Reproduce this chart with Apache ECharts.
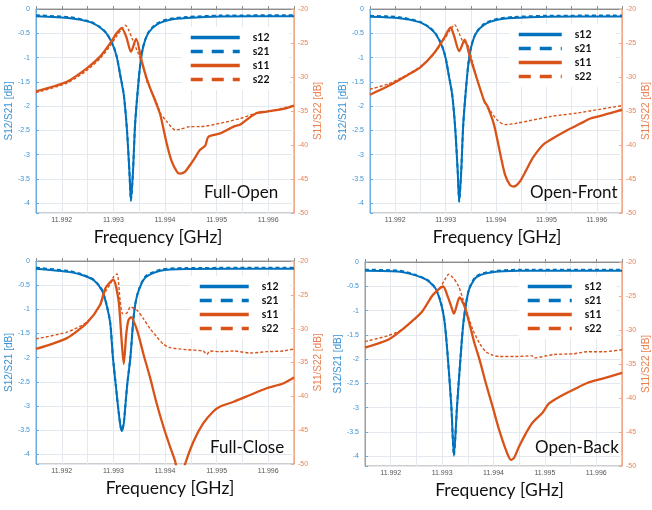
<!DOCTYPE html>
<html>
<head>
<meta charset="utf-8">
<script src="https://cdn.jsdelivr.net/npm/echarts@6/dist/echarts.min.js"></script>
<style>
  html, body { margin: 0; padding: 0; background: #fff; }
  #chart { width: 652px; height: 510px; }
</style>
</head>
<body>
<div id="chart"></div>
<script>
// frequency in GHz, values in dB
var titles = ['Full-Open', 'Open-Front', 'Full-Close', 'Open-Back']
var legendNames = ['s12', 's21', 's11', 's22']
var xTicks = [11.992, 11.993, 11.994, 11.995, 11.996]

// Full-Open
var fo_s12 = [[11.9915,-0.15],[11.99216,-0.19],[11.99255,-0.27],[11.99274,-0.38],[11.99287,-0.51],[11.993,-0.77],[11.99307,-1.01],[11.99313,-1.35],[11.9932,-1.76],[11.99326,-2.45],[11.99331,-3.34],[11.99334,-3.95],[11.99338,-3.34],[11.99342,-2.38],[11.99347,-1.7],[11.99352,-1.15],[11.99358,-0.77],[11.99368,-0.49],[11.99384,-0.32],[11.9941,-0.22],[11.99442,-0.185],[11.99507,-0.155],[11.9965,-0.15]]
var fo_s21 = [[11.9915,-0.13],[11.99216,-0.17],[11.99255,-0.26],[11.99274,-0.37],[11.99287,-0.5],[11.993,-0.76],[11.99307,-1.0],[11.99313,-1.34],[11.9932,-1.75],[11.99326,-2.44],[11.99331,-3.33],[11.99334,-3.94],[11.99338,-3.33],[11.99342,-2.37],[11.99347,-1.69],[11.99352,-1.14],[11.99358,-0.76],[11.99368,-0.48],[11.99384,-0.3],[11.9941,-0.2],[11.99442,-0.165],[11.99507,-0.135],[11.9965,-0.13]]
var fo_s11 = [[11.9915,-32.1],[11.9921,-30.7],[11.99249,-28.7],[11.99274,-27.0],[11.99294,-25.0],[11.99307,-23.5],[11.99316,-22.8],[11.99325,-24.1],[11.99334,-26.3],[11.99344,-24.4],[11.99355,-27.7],[11.99364,-30.1],[11.99371,-31.6],[11.99384,-34.1],[11.99391,-35.6],[11.99404,-40.0],[11.99413,-42.4],[11.99423,-43.9],[11.99429,-44.2],[11.99439,-43.9],[11.99449,-42.9],[11.99458,-41.9],[11.99468,-40.7],[11.99478,-40.1],[11.99484,-38.8],[11.99507,-38.3],[11.99533,-37.3],[11.99546,-37.0],[11.99558,-36.3],[11.99578,-35.3],[11.99597,-35.1],[11.99629,-34.7],[11.9965,-34.2]]
var fo_s22 = [[11.9915,-32.3],[11.9921,-30.9],[11.99249,-29.0],[11.99274,-27.3],[11.99294,-25.4],[11.99307,-23.9],[11.99316,-23.0],[11.99323,-22.4],[11.99329,-23.0],[11.99336,-24.3],[11.99349,-26.7],[11.99358,-28.6],[11.99365,-30.7],[11.99371,-31.6],[11.99384,-33.8],[11.99391,-35.3],[11.99404,-36.6],[11.9942,-37.8],[11.99429,-37.7],[11.99449,-37.3],[11.99468,-37.3],[11.99507,-36.8],[11.99546,-36.1],[11.99578,-35.3],[11.99597,-35.1],[11.9965,-34.2]]

// Open-Front
var of_s12 = [[11.9915,-0.16],[11.99209,-0.19],[11.99248,-0.27],[11.99267,-0.38],[11.9928,-0.51],[11.99293,-0.77],[11.993,-1.01],[11.99306,-1.35],[11.99313,-1.76],[11.99319,-2.45],[11.99324,-3.34],[11.99327,-3.97],[11.99331,-3.34],[11.99335,-2.38],[11.9934,-1.7],[11.99345,-1.15],[11.99351,-0.77],[11.99361,-0.49],[11.99377,-0.32],[11.99403,-0.22],[11.99435,-0.185],[11.995,-0.16],[11.9965,-0.155]]
var of_s21 = [[11.9915,-0.14],[11.99209,-0.17],[11.99248,-0.26],[11.99267,-0.37],[11.9928,-0.5],[11.99293,-0.76],[11.993,-1.0],[11.99306,-1.34],[11.99313,-1.75],[11.99319,-2.44],[11.99324,-3.33],[11.99327,-3.96],[11.99331,-3.33],[11.99335,-2.37],[11.9934,-1.69],[11.99345,-1.14],[11.99351,-0.76],[11.99361,-0.48],[11.99377,-0.3],[11.99403,-0.2],[11.99435,-0.165],[11.995,-0.14],[11.9965,-0.135]]
var of_s11 = [[11.9915,-32.6],[11.99187,-31.3],[11.99225,-29.7],[11.99251,-28.5],[11.99277,-26.5],[11.99296,-24.4],[11.9931,-22.7],[11.99317,-24.0],[11.99327,-26.2],[11.99338,-24.5],[11.99347,-26.7],[11.99364,-30.7],[11.99377,-33.6],[11.99383,-34.3],[11.99396,-37.0],[11.99409,-41.5],[11.99418,-44.4],[11.99428,-45.9],[11.99435,-46.1],[11.99447,-45.4],[11.9946,-43.7],[11.99473,-41.9],[11.99493,-40.0],[11.99509,-39.2],[11.99542,-37.8],[11.99574,-36.6],[11.99587,-36.1],[11.99613,-35.6],[11.9965,-34.8]]
var of_s22 = [[11.9915,-31.8],[11.99187,-31.0],[11.99225,-29.6],[11.99251,-28.4],[11.99277,-26.6],[11.99296,-24.6],[11.9931,-23.0],[11.99318,-22.3],[11.99327,-23.6],[11.99333,-24.6],[11.99344,-25.3],[11.99354,-28.0],[11.99364,-30.7],[11.99377,-33.6],[11.99383,-34.3],[11.99402,-36.3],[11.99418,-37.0],[11.99441,-36.8],[11.99509,-35.8],[11.99561,-35.3],[11.9965,-34.2]]

// Full-Close
var fc_s12 = [[11.9915,-0.16],[11.99216,-0.23],[11.99242,-0.3],[11.99262,-0.4],[11.99278,-0.61],[11.99287,-0.92],[11.99294,-1.3],[11.99299,-1.99],[11.99305,-2.61],[11.99309,-3.02],[11.99313,-3.37],[11.99316,-3.52],[11.9932,-3.37],[11.99323,-3.02],[11.99327,-2.54],[11.99333,-1.99],[11.99338,-1.3],[11.99342,-0.92],[11.99349,-0.61],[11.99362,-0.34],[11.99391,-0.2],[11.99442,-0.165],[11.9965,-0.16]]
var fc_s21 = [[11.9915,-0.14],[11.99216,-0.21],[11.99242,-0.29],[11.99262,-0.39],[11.99278,-0.6],[11.99287,-0.91],[11.99294,-1.29],[11.99299,-1.98],[11.99305,-2.6],[11.99309,-3.01],[11.99313,-3.36],[11.99316,-3.51],[11.9932,-3.36],[11.99323,-3.01],[11.99327,-2.53],[11.99333,-1.98],[11.99338,-1.29],[11.99342,-0.91],[11.99349,-0.6],[11.99362,-0.32],[11.99391,-0.18],[11.99442,-0.145],[11.9965,-0.14]]
var fc_s11 = [[11.9915,-33.0],[11.9921,-31.4],[11.99249,-29.1],[11.99274,-26.5],[11.99284,-24.1],[11.99294,-23.1],[11.993,-22.8],[11.9931,-25.8],[11.99315,-30.75],[11.9932,-35.2],[11.99325,-30.75],[11.99329,-28.8],[11.99334,-28.3],[11.99346,-30.25],[11.99358,-33.7],[11.99371,-37.2],[11.99384,-41.1],[11.99397,-44.5],[11.9941,-47.5],[11.9942,-49.7],[11.99429,-53.0],[11.99439,-50.0],[11.99455,-46.7],[11.99474,-44.0],[11.99494,-42.2],[11.99507,-41.5],[11.99533,-40.8],[11.99565,-39.8],[11.99597,-38.8],[11.99629,-38.1],[11.9965,-37.2]]
var fc_s22 = [[11.9915,-31.5],[11.9921,-30.5],[11.99249,-29.0],[11.99274,-26.6],[11.99284,-24.6],[11.99294,-23.4],[11.993,-22.4],[11.99307,-21.9],[11.99313,-25.8],[11.99318,-27.8],[11.99326,-27.7],[11.99333,-26.8],[11.99346,-27.3],[11.99358,-28.5],[11.99371,-30.0],[11.99384,-31.2],[11.99397,-32.3],[11.9941,-32.8],[11.99442,-33.1],[11.99474,-33.3],[11.99481,-33.8],[11.99487,-33.3],[11.99507,-33.4],[11.99533,-33.3],[11.99565,-33.6],[11.99597,-33.4],[11.99629,-33.3],[11.9965,-33.0]]

// Open-Back
var ob_s12 = [[11.9915,-0.18],[11.99218,-0.2],[11.9925,-0.28],[11.9927,-0.37],[11.99282,-0.48],[11.99289,-0.58],[11.99299,-0.9],[11.99305,-1.25],[11.99311,-1.95],[11.99318,-2.98],[11.99323,-3.99],[11.99329,-2.98],[11.99336,-1.95],[11.99342,-1.2],[11.99352,-0.58],[11.99366,-0.32],[11.99392,-0.22],[11.9945,-0.18],[11.9965,-0.18]]
var ob_s21 = [[11.9915,-0.16],[11.99218,-0.18],[11.9925,-0.27],[11.9927,-0.36],[11.99282,-0.47],[11.99289,-0.57],[11.99299,-0.89],[11.99305,-1.24],[11.99311,-1.94],[11.99318,-2.97],[11.99323,-3.98],[11.99329,-2.97],[11.99336,-1.94],[11.99342,-1.19],[11.99352,-0.57],[11.99366,-0.3],[11.99392,-0.2],[11.9945,-0.16],[11.9965,-0.16]]
var ob_s11 = [[11.9915,-32.6],[11.99196,-31.4],[11.99223,-29.9],[11.9926,-27.4],[11.99282,-24.85],[11.99302,-23.6],[11.99311,-25.1],[11.99318,-26.6],[11.99323,-27.6],[11.99334,-25.2],[11.99344,-26.6],[11.99353,-29.0],[11.99363,-31.95],[11.99373,-34.4],[11.99385,-37.8],[11.99398,-41.2],[11.99411,-44.7],[11.99424,-47.6],[11.99434,-49.1],[11.9944,-48.8],[11.9945,-47.1],[11.99463,-45.2],[11.99475,-43.7],[11.99495,-42.2],[11.99508,-40.8],[11.99531,-39.7],[11.99556,-38.75],[11.99582,-37.8],[11.99614,-37.1],[11.9965,-36.3]]
var ob_s22 = [[11.9915,-31.7],[11.99196,-30.8],[11.99223,-29.9],[11.9926,-27.4],[11.99282,-24.85],[11.99295,-23.9],[11.99305,-22.65],[11.99313,-21.8],[11.99321,-22.3],[11.99331,-23.4],[11.9934,-25.3],[11.9935,-27.8],[11.9936,-30.0],[11.99373,-31.95],[11.99385,-33.2],[11.99398,-33.7],[11.99411,-33.9],[11.99443,-33.9],[11.99475,-33.8],[11.99479,-34.1],[11.99518,-33.6],[11.99556,-33.5],[11.99582,-33.2],[11.99614,-33.2],[11.9965,-32.9]]

var panelData = [
  [fo_s12, fo_s21, fo_s11, fo_s22],
  [of_s12, of_s21, of_s11, of_s22],
  [fc_s12, fc_s21, fc_s11, fc_s22],
  [ob_s12, ob_s21, ob_s11, ob_s22]
]

var BLUE = '#0072BD'
var ORANGE = '#D95319'
var GRID = '#e3e9ef'

// plot boxes, legend and label spots for each panel
var boxes = [
  { left: 36, top: 9, width: 258, height: 204, nameShift: -7 },
  { left: 370, top: 9, width: 258, height: 204, nameShift: 1 },
  { left: 36, top: 261, width: 258, height: 203, nameShift: 5 },
  { left: 365, top: 262, width: 259, height: 204, nameShift: 6 }
]
var legendPos = [
  { left: 182, top: 27, w: 49, pr: 20 },
  { left: 510, top: 24, w: 43, pr: 24 },
  { left: 191, top: 276, w: 49, pr: 12 },
  { left: 519, top: 276, w: 44, pr: 15 }
]
var titlePos = [
  { left: 204, top: 184 },
  { left: 530, top: 184 },
  { left: 210, top: 439 },
  { left: 535, top: 439 }
]

var dom = document.getElementById('chart')
var myChart = echarts.init(dom)

var grid = [], xAxis = [], yAxis = [], series = [], legend = [], title = []

function isStep(v, step) {
  var k = v / step
  return Math.abs(k - Math.round(k)) < 1e-6
}

for (var i = 0; i < 4; i++) {
  var b = boxes[i]
  grid.push({ left: b.left, top: b.top, width: b.width, height: b.height, show: true, borderColor: '#9a9a9a', borderWidth: 1, backgroundColor: '#fff' })

  var sh = b.nameShift
  xAxis.push({
    type: 'value', gridIndex: i, min: 11.9915, max: 11.9965, interval: 0.0005,
    axisLine: { lineStyle: { color: '#8c8c8c' } },
    axisTick: { inside: true, length: 3, lineStyle: { color: '#8c8c8c' } },
    axisLabel: {
      margin: 4, fontSize: 7, color: '#555', fontFamily: 'Liberation Sans',
      formatter: function (v) {
        for (var k = 0; k < xTicks.length; k++) {
          if (Math.abs(v - xTicks[k]) < 1e-7) return xTicks[k].toFixed(3)
        }
        return ''
      }
    },
    splitLine: { show: true, lineStyle: { color: GRID, width: 1 } },
    name: 'Frequency [GHz]', nameLocation: 'middle', nameGap: 15,
    nameTextStyle: {
      fontFamily: 'Lato', fontSize: 17.5, color: '#111',
      padding: [0, sh < 0 ? -2 * sh : 0, 0, sh > 0 ? 2 * sh : 0]
    }
  })

  // left axis is drawn inverted (0 at top, depth downward) so its ticks count from 0
  yAxis.push({
    type: 'value', gridIndex: i, position: 'left', inverse: true, min: 0, max: 4.2, interval: 0.5,
    axisLine: { show: true, lineStyle: { color: '#6aaee0' } },
    axisTick: { show: true, inside: true, length: 3, lineStyle: { color: '#6aaee0' } },
    axisLabel: {
      margin: 6, fontSize: 7, color: '#3d93d3', fontFamily: 'Liberation Sans',
      formatter: function (v) {
        if (!isStep(v, 0.5)) return ''
        return v === 0 ? '0' : '-' + v
      }
    },
    splitLine: { show: true, lineStyle: { color: GRID, width: 1 } },
    name: 'S12/S21 [dB]', nameLocation: 'middle', nameGap: 21, nameRotate: 90,
    nameTextStyle: { fontSize: 10, color: '#3d93d3', fontFamily: 'Liberation Sans' }
  })
  yAxis.push({
    type: 'value', gridIndex: i, position: 'right', min: -50, max: -20, interval: 5,
    axisLine: { show: true, lineStyle: { color: '#f2a886' } },
    axisTick: { show: true, inside: true, length: 3, lineStyle: { color: '#f2a886' } },
    axisLabel: { margin: 4, fontSize: 7, color: '#e8804f', fontFamily: 'Liberation Sans' },
    splitLine: { show: false },
    name: 'S11/S22 [dB]', nameLocation: 'middle', nameGap: 19, nameRotate: 90,
    nameTextStyle: { fontSize: 10, color: '#e8804f', fontFamily: 'Liberation Sans' }
  })

  var d = panelData[i]
  var styles = [
    { color: BLUE, width: 2, type: 'solid', axis: 2 * i, flip: true },
    { color: BLUE, width: 2, type: [4, 3], axis: 2 * i, flip: true },
    { color: ORANGE, width: 2.3, type: 'solid', axis: 2 * i + 1, flip: false },
    { color: ORANGE, width: 1.4, type: [3, 2], axis: 2 * i + 1, flip: false }
  ]
  for (var s = 0; s < 4; s++) {
    var st = styles[s]
    var pts = d[s].map(function (p) { return st.flip ? [p[0], -p[1]] : [p[0], p[1]] })
    series.push({
      name: legendNames[s], type: 'line', xAxisIndex: i, yAxisIndex: st.axis,
      data: pts, symbol: 'none', showSymbol: false, smooth: 0.25, clip: true,
      color: st.color,
      lineStyle: { color: st.color, width: st.width, type: st.type },
      emphasis: { disabled: true }, silent: true, animation: false
    })
  }

  var lp = legendPos[i]
  legend.push({
    orient: 'vertical', left: lp.left, top: lp.top,
    itemWidth: lp.w, itemHeight: 10, itemGap: 3,
    padding: [5, lp.pr, 5, 7], backgroundColor: '#fff',
    selectedMode: false,
    // line series legends draw a marker in the middle; keep only the line
    itemStyle: { color: 'rgba(0,0,0,0)', borderColor: 'rgba(0,0,0,0)', borderWidth: 0, opacity: 0 },
    textStyle: { fontFamily: 'Lato', fontWeight: 'bold', fontSize: 10.5, color: '#111', padding: [0, 0, 0, 8] },
    data: [
      { name: 's12', lineStyle: { width: 3.5, type: 'solid', color: BLUE, opacity: 1 } },
      { name: 's21', lineStyle: { width: 3.5, type: [12, 9], color: BLUE, opacity: 1 } },
      { name: 's11', lineStyle: { width: 3.5, type: 'solid', color: ORANGE, opacity: 1 } },
      { name: 's22', lineStyle: { width: 3.5, type: [12, 9], color: ORANGE, opacity: 1 } }
    ]
  })

  title.push({
    text: titles[i], left: titlePos[i].left, top: titlePos[i].top, padding: 0,
    textStyle: { fontFamily: 'Lato', fontSize: 17, fontWeight: 'normal', color: '#111' }
  })
}

option = {
  animation: false,
  backgroundColor: '#fff',
  title: title,
  grid: grid,
  xAxis: xAxis,
  yAxis: yAxis,
  legend: legend,
  series: series
}
myChart.setOption(option)
</script>
</body>
</html>
